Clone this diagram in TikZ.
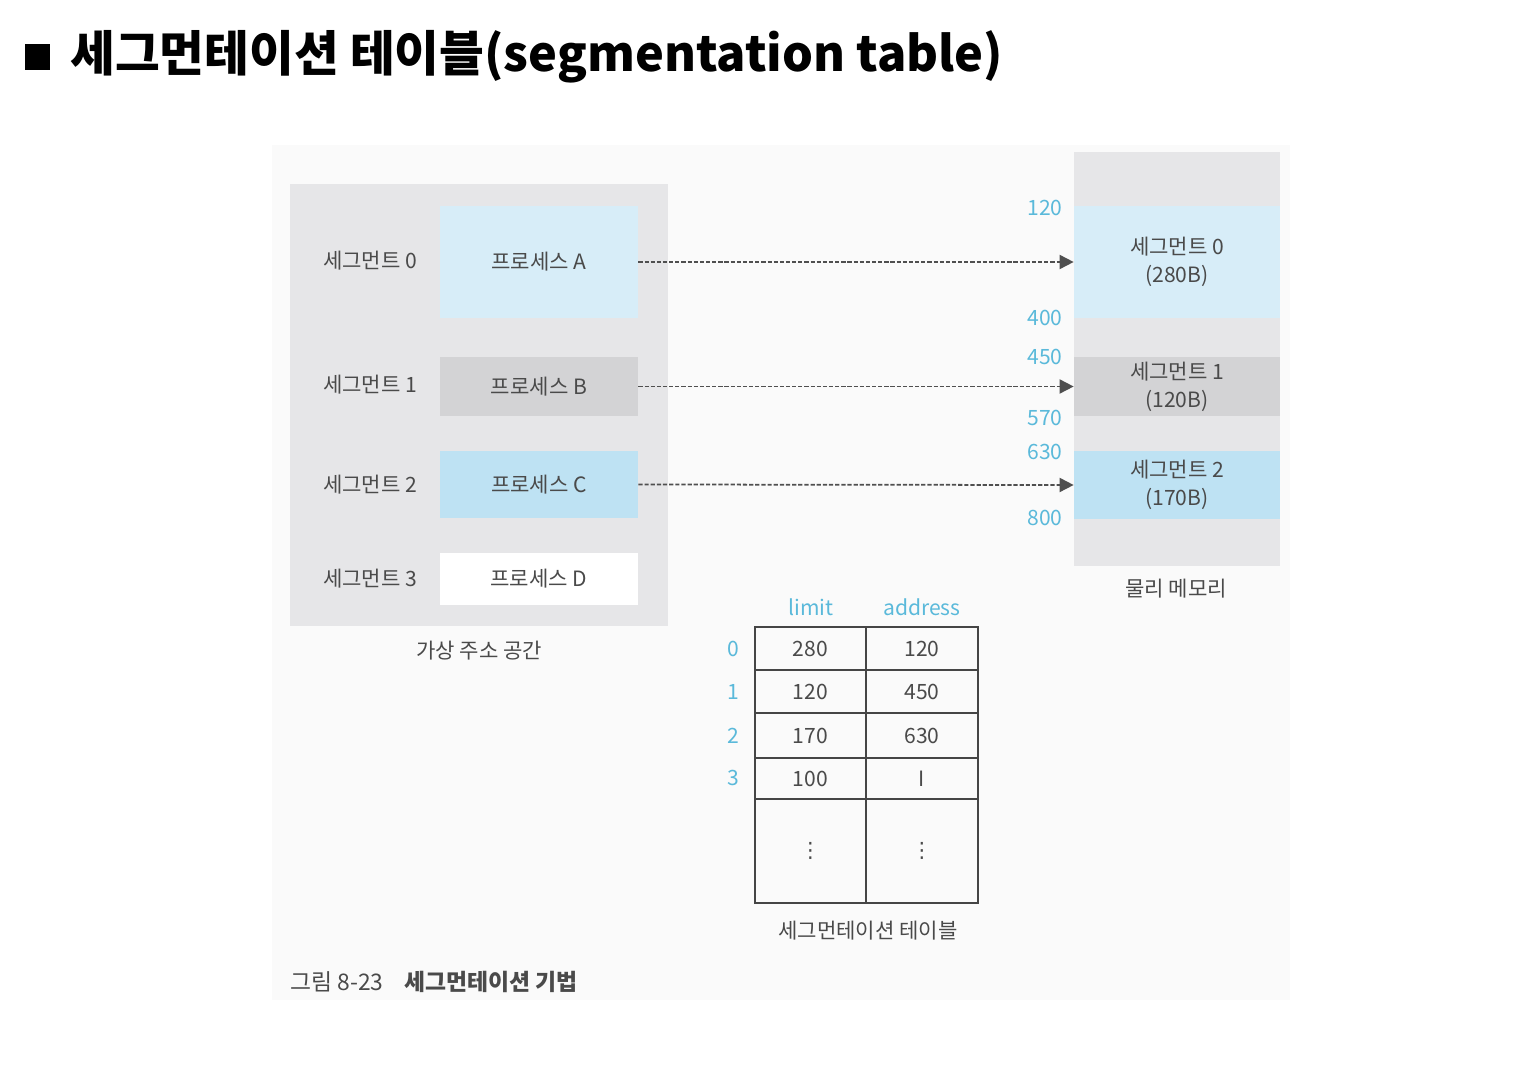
\documentclass[tikz,border=0pt]{standalone}
\usepackage{fontspec}
\setmainfont{Noto Sans CJK KR}
\newfontfamily\dejavu{DejaVu Sans}
\usetikzlibrary{arrows.meta}
\definecolor{figbg}{HTML}{FAFAFA}
\definecolor{panelgray}{HTML}{E6E6E8}
\definecolor{lblue}{HTML}{D7EDF8}
\definecolor{mblue}{HTML}{BEE2F3}
\definecolor{mgray}{HTML}{D3D3D5}
\definecolor{txtgray}{HTML}{4A4A4A}
\definecolor{cyanlbl}{HTML}{5AB9DA}
\definecolor{arrowgray}{HTML}{4F4F4F}
\definecolor{tabline}{HTML}{454545}
\newcommand\cellbox[7]{%
  \pgfmathsetmacro\bw{(#4-#2)*0.02}%
  \pgfmathsetmacro\bh{(#5-#3)*0.02}%
  \node[#6, minimum width=\bw cm, minimum height=\bh cm, inner sep=0pt] (#1) at ({(#2+#4)/2},{(#3+#5)/2}) {#7};}
\tikzset{
  lbl/.style={text=txtgray, font=\fontsize{12}{16}\selectfont, align=center, inner sep=0pt},
  num/.style={text=cyanlbl, font=\fontsize{12}{16}\selectfont, inner sep=0pt},
  panel/.style={fill=panelgray, draw=none},
  blk/.style={draw=none, lbl},
  tcell/.style={draw=tabline, line width=1pt, lbl},
  maparrow/.style={draw=arrowgray, line width=1pt, dash pattern=on 2.4pt off 1.1pt,
     -{Triangle[length=8pt,width=8pt]}}
}
\begin{document}
\begin{tikzpicture}[x=0.02cm, y=-0.02cm]
\useasboundingbox (0,0) rectangle (1530,1071);
\fill[white] (0,0) rectangle (1530,1071);
\fill[figbg] (272,145) rectangle (1290,1000);
% title
\fill[black] (25,44) rectangle (50,70);
\node[anchor=west, inner sep=0pt, font=\fontsize{27.7}{30}\selectfont\bfseries] (title) at (70,57) {세그먼테이션 테이블(segmentation table)};
% virtual address space
\cellbox{vas}{290}{184}{668}{626}{panel}{}
\cellbox{pA}{440}{206}{638}{318}{blk, fill=lblue}{프로세스 A}
\cellbox{pB}{440}{357}{638}{416}{blk, fill=mgray}{프로세스 B}
\cellbox{pC}{440}{451}{638}{518}{blk, fill=mblue}{프로세스 C}
\cellbox{pD}{440}{553}{638}{605}{blk, fill=white}{프로세스 D}
\node[lbl] (s0) at (370,261) {세그먼트 0};
\node[lbl] (s1) at (370,385) {세그먼트 1};
\node[lbl] (s2) at (370,485) {세그먼트 2};
\node[lbl] (s3) at (370,579) {세그먼트 3};
\node[lbl] (vaslbl) at (479,651) {가상 주소 공간};
% physical memory
\cellbox{pm}{1074}{152}{1280}{566}{panel}{}
\cellbox{m0}{1074}{206}{1280}{318}{blk, fill=lblue}{세그먼트 0\\(280B)}
\cellbox{m1}{1074}{357}{1280}{416}{blk, fill=mgray}{세그먼트 1\\(120B)}
\cellbox{m2}{1074}{451}{1280}{519}{blk, fill=mblue}{세그먼트 2\\(170B)}
\node[lbl] (pmlbl) at (1176,589) {물리 메모리};
\node[num, anchor=east] (a120) at (1063,208) {120};
\node[num, anchor=east] (a400) at (1063,318) {400};
\node[num, anchor=east] (a450) at (1063,357) {450};
\node[num, anchor=east] (a570) at (1063,418) {570};
\node[num, anchor=east] (a630) at (1063,452) {630};
\node[num, anchor=east] (a800) at (1063,518) {800};
% arrows
\draw[maparrow] (pA.east) -- (m0.west);
\draw[maparrow] (pB.east) -- (m1.west);
\draw[maparrow] (pC.east) -- (m2.west);
% segmentation table
\node[num] (hlim) at (811,607) {limit};
\node[num] (hadr) at (922,607) {address};
\cellbox{l0}{755}{627}{866}{670}{tcell}{280}
\cellbox{r0}{866}{627}{978}{670}{tcell}{120}
\cellbox{l1}{755}{670}{866}{713}{tcell}{120}
\cellbox{r1}{866}{670}{978}{713}{tcell}{450}
\cellbox{l2}{755}{713}{866}{758}{tcell}{170}
\cellbox{r2}{866}{713}{978}{758}{tcell}{630}
\cellbox{l3}{755}{758}{866}{799}{tcell}{100}
\cellbox{r3}{866}{758}{978}{799}{tcell}{I}
\cellbox{l4}{755}{799}{866}{903}{tcell}{{\dejavu ⋮}}
\cellbox{r4}{866}{799}{978}{903}{tcell}{{\dejavu ⋮}}
\node[num] (i0) at (733,649) {0};
\node[num] (i1) at (733,692) {1};
\node[num] (i2) at (733,736) {2};
\node[num] (i3) at (733,778) {3};
\node[lbl] (tablbl) at (868,931) {세그먼테이션 테이블};
% caption
\node[lbl, anchor=west, font=\fontsize{13}{16}\selectfont] (cap) at (290,982) {그림 8-23\hspace{0.9em}{\bfseries 세그먼테이션 기법}};
\end{tikzpicture}
\end{document}
